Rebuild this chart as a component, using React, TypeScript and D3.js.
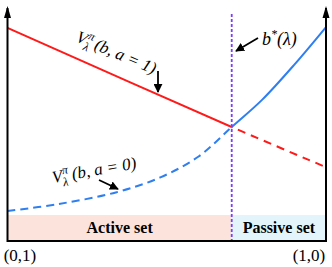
import * as d3 from 'd3';

// belief b moving from (0,1) on the left to (1,0) on the right
const beliefs = [0, 0.16, 0.34, 0.48, 0.6, 0.704, 0.8, 0.9, 1];
const passiveValues = [0.125, 0.155, 0.205, 0.27, 0.36, 0.487, 0.605, 0.755, 0.918];
const activeBeliefs = [0, 0.704, 1];
const activeValues = [0.914, 0.487, 0.314];
const threshold = 0.704;
const endLabels = ['(0,1)', '(1,0)'];
const setLabels = ['Active set', 'Passive set'];

const W = 332;
const H = 267;
const serif = '"Liberation Serif", "DejaVu Serif", serif';

export default function App() {
    const x = d3.scaleLinear().domain([0, 1]).range([7.5, 326]);
    const y = d3.scaleLinear().domain([0, 1]).range([240, 8]);

    const smooth = d3.line<[number, number]>()
        .x(d => x(d[0]))
        .y(d => y(d[1]))
        .curve(d3.curveCatmullRom.alpha(0.5));

    const blue = beliefs.map((b, i) => [b, passiveValues[i]] as [number, number]);
    const red = activeBeliefs.map((b, i) => [b, activeValues[i]] as [number, number]);

    const xb = x(threshold);
    const bandTop = 215;

    return (
        <svg width={W} height={H} style={{ position: 'absolute', left: 0, top: 0 }}>
            <defs>
                <marker id="ah" viewBox="0 0 10 10" refX="9" refY="5" markerWidth="5" markerHeight="5" orient="auto">
                    <path d="M0,0 L10,5 L0,10 z" fill="black" />
                </marker>
                <clipPath id="left"><rect x={0} y={0} width={xb} height={H} /></clipPath>
                <clipPath id="right"><rect x={xb} y={0} width={W - xb} height={H} /></clipPath>
            </defs>

            {/* decision regions */}
            <rect x={x(0)} y={bandTop} width={xb - x(0)} height={y(0) - bandTop} fill="#fce3dc" />
            <rect x={xb} y={bandTop} width={x(1) - xb} height={y(0) - bandTop} fill="#e3f5fb" />
            <text x={(x(0) + xb) / 2} y={233} textAnchor="middle" fontFamily={serif} fontWeight="bold" fontSize={16}>{setLabels[0]}</text>
            <text x={(xb + x(1)) / 2} y={233} textAnchor="middle" fontFamily={serif} fontWeight="bold" fontSize={16}>{setLabels[1]}</text>

            {/* curves */}
            <g clipPath="url(#left)">
                <path d={smooth(red) ?? ''} fill="none" stroke="#ff1a1a" strokeWidth={2} />
                <path d={smooth(blue) ?? ''} fill="none" stroke="#2f7ff0" strokeWidth={2} strokeDasharray="8,5" />
            </g>
            <g clipPath="url(#right)">
                <path d={smooth(red) ?? ''} fill="none" stroke="#ff1a1a" strokeWidth={2} strokeDasharray="8,6" />
                <path d={smooth(blue) ?? ''} fill="none" stroke="#2f7ff0" strokeWidth={2} />
            </g>

            {/* threshold */}
            <line x1={xb} x2={xb} y1={14} y2={y(0)} stroke="#7b3ff5" strokeWidth={1.8} strokeDasharray="3,2" />

            {/* axes */}
            <path d={`M${x(0)},${y(0) + 1}L${x(1)},${y(0) + 1}`} stroke="black" strokeWidth={2} />
            <line x1={x(0)} x2={x(0)} y1={y(0) + 2} y2={8} stroke="black" strokeWidth={2} />
            <line x1={x(1)} x2={x(1)} y1={y(0) + 2} y2={8} stroke="black" strokeWidth={2} />
            <path d={`M${x(0) - 3.5},18L${x(0)},6L${x(0) + 3.5},18z`} fill="black" />
            <path d={`M${x(1) - 3.5},18L${x(1)},6L${x(1) + 3.5},18z`} fill="black" />

            <text x={20} y={261} textAnchor="middle" fontFamily={serif} fontSize={17}>{endLabels[0]}</text>
            <text x={309} y={261} textAnchor="middle" fontFamily={serif} fontSize={17}>{endLabels[1]}</text>

            {/* annotations */}
            <g transform="translate(75,41) rotate(23)" fontFamily={serif} fontStyle="italic">
                <text x={0} y={0} fontSize={17}>V</text>
                <text x={11} y={-7} fontSize={12}>π</text>
                <text x={10} y={5} fontSize={12}>λ</text>
                <text x={20} y={0} fontSize={17}>(b, a = 1)</text>
            </g>
            <line x1={158} y1={71} x2={158} y2={92} stroke="black" strokeWidth={1.8} markerEnd="url(#ah)" />

            <g transform="translate(53,183) rotate(-10)" fontFamily={serif} fontStyle="italic">
                <text x={0} y={0} fontSize={17}>V</text>
                <text x={11} y={-7} fontSize={12}>π</text>
                <text x={10} y={5} fontSize={12}>λ</text>
                <text x={20} y={0} fontSize={17}>(b, a = 0)</text>
            </g>
            <line x1={99} y1={180} x2={118} y2={189} stroke="black" strokeWidth={1.8} markerEnd="url(#ah)" />

            <text x={262} y={45} fontFamily={serif} fontStyle="italic" fontSize={18}>
                b<tspan dy={-7} fontSize={12}>*</tspan><tspan dy={7}>(λ)</tspan>
            </text>
            <line x1={258} y1={38} x2={236} y2={51} stroke="black" strokeWidth={1.8} markerEnd="url(#ah)" />
        </svg>
    );
}
